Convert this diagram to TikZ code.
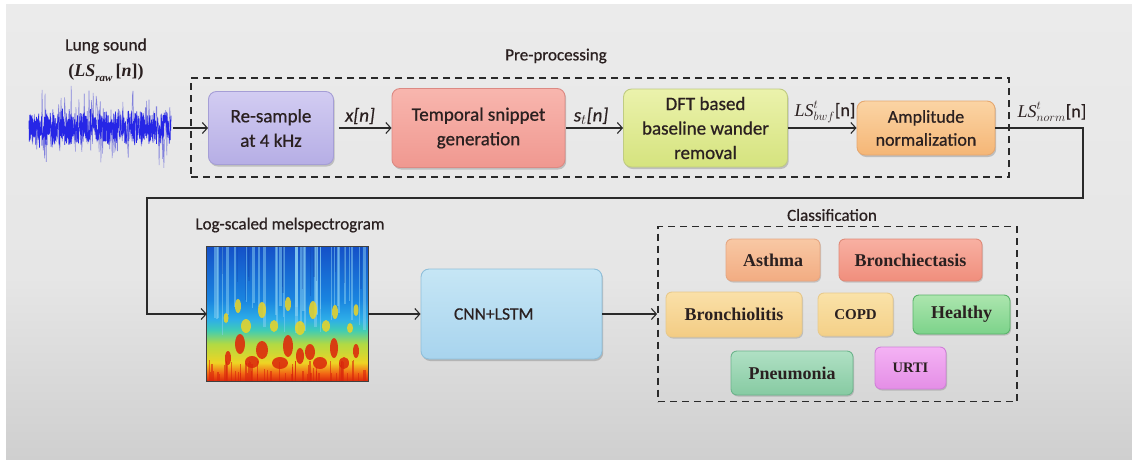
\documentclass[tikz,border=0pt]{standalone}
\usepackage{fontspec}
\setmainfont{Carlito}[RawFeature={embolden=0.7}]
\newfontfamily\serifbold{Liberation Serif}
\usetikzlibrary{arrows.meta,shadows}

% palette
\definecolor{ink}{HTML}{2A2A2A}
\definecolor{txt}{HTML}{2A2020}
\definecolor{bgT}{HTML}{EBEBEB}
\definecolor{bgM}{HTML}{E6E6E6}
\definecolor{bgB}{HTML}{CFCFCF}
\definecolor{rsT}{HTML}{D2CCF2}\definecolor{rsB}{HTML}{B6AEE5}\definecolor{rsD}{HTML}{A59ED6}
\definecolor{tsT}{HTML}{F8B6AE}\definecolor{tsB}{HTML}{F09890}\definecolor{tsD}{HTML}{DC8A84}
\definecolor{dfT}{HTML}{EBF2AC}\definecolor{dfB}{HTML}{D5E37E}\definecolor{dfD}{HTML}{C0CC82}
\definecolor{amT}{HTML}{FBD4A4}\definecolor{amB}{HTML}{F5B676}\definecolor{amD}{HTML}{E6A870}
\definecolor{cnT}{HTML}{C6E6F5}\definecolor{cnB}{HTML}{A8D4EE}\definecolor{cnD}{HTML}{8FBFDA}
\definecolor{asT}{HTML}{F8C8A4}\definecolor{asB}{HTML}{F2AC82}\definecolor{asD}{HTML}{E5A783}
\definecolor{bcT}{HTML}{F8B0A2}\definecolor{bcB}{HTML}{F08E7C}\definecolor{bcD}{HTML}{E08A78}
\definecolor{blT}{HTML}{FAE0A8}\definecolor{blB}{HTML}{F3CC84}\definecolor{blD}{HTML}{E8C98A}
\definecolor{cpT}{HTML}{FAE2A8}\definecolor{cpB}{HTML}{F4D088}\definecolor{cpD}{HTML}{E8CA8C}
\definecolor{hyT}{HTML}{ACE6AE}\definecolor{hyB}{HTML}{7CD28A}\definecolor{hyD}{HTML}{5AB36A}
\definecolor{pnT}{HTML}{B0E0C4}\definecolor{pnB}{HTML}{86CAA2}\definecolor{pnD}{HTML}{6CB48C}
\definecolor{urT}{HTML}{F4B2F4}\definecolor{urB}{HTML}{E48EE6}\definecolor{urD}{HTML}{D080D8}
\definecolor{waveCore}{HTML}{2626E6}
\definecolor{waveSpike}{HTML}{7070DA}
\definecolor{spR}{HTML}{D8240C}
\definecolor{spO}{HTML}{F26414}
\definecolor{spY}{HTML}{EED424}
\definecolor{spG}{HTML}{B0DA44}
\definecolor{spC}{HTML}{40CCB4}
\definecolor{spL}{HTML}{2EAEE8}
\definecolor{spM}{HTML}{1A86E0}
\definecolor{spB}{HTML}{1450C8}

% TikZ fits a shaded path to the 25bp--75bp band of the shading
\pgfdeclareverticalshading{bgshade}{100bp}{color(0bp)=(bgB); color(25bp)=(bgB); color(45bp)=(bgM); color(75bp)=(bgT); color(100bp)=(bgT)}
\pgfdeclareverticalshading{specshade}{100bp}{color(0bp)=(spR); color(25bp)=(spR); color(28bp)=(spO); color(32bp)=(spY); color(39bp)=(spG); color(44bp)=(spC); color(48bp)=(spL); color(55bp)=(spM); color(75bp)=(spB); color(100bp)=(spB)}

\begin{document}
\begin{tikzpicture}[x=1pt,y=-1pt,
  conn/.style={draw=ink, line width=1.1pt},
  arr/.style={conn, -{Straight Barb[length=5pt,width=11pt]}},
  dashbox/.style={draw=ink, line width=1.8pt, dash pattern=on 7pt off 5pt, inner sep=0pt},
  stagebox/.style={rounded corners=8pt, line width=0.9pt, align=center, text=txt, inner sep=0pt,
    font=\fontsize{19}{24.5}\selectfont,
    drop shadow={shadow xshift=1.2pt, shadow yshift=-2pt, fill=black, opacity=0.18}},
  classbox/.style={rounded corners=6pt, line width=0.9pt, text=txt, inner sep=0pt,
    font=\serifbold\bfseries\fontsize{18}{20}\selectfont,
    drop shadow={shadow xshift=1pt, shadow yshift=-1.5pt, fill=black, opacity=0.15}},
  titletext/.style={text=txt, inner sep=0pt, font=\fontsize{17}{20}\selectfont},
  siglabel/.style={text=txt, inner sep=0pt, font=\fontsize{19}{20}\selectfont}
]
\useasboundingbox (0,0) rectangle (1132,459);

% backdrop
\fill[white] (0,0) rectangle (1132,459);
\shade[shading=bgshade] (6,4) rectangle (1132,459);

% ---------- input signal ----------
\node[titletext, font=\fontsize{17.5}{20}\selectfont] (lungtitle) at (106,46) {Lung sound};
\node[titletext, font=\serifbold\bfseries\fontsize{18}{20}\selectfont] (lungsym) at (106,73)
  {(\textit{LS}\raisebox{-0.28em}{\fontsize{11}{12}\selectfont\textit{raw}}\,[\textit{n}])};
\node[minimum width=145pt, minimum height=94pt, inner sep=0pt] (wave) at (100.5,128) {};
\pgfmathsetseed{11}
\draw[waveSpike, line width=0.55pt, opacity=0.85] plot[domain=29:171, samples=240] (\x,{128+47*rand*rand});
\draw[waveCore, line width=0.7pt] plot[domain=29:171, samples=560] (\x,{128+(13+7*rnd)*rand});

% ---------- pre-processing chain ----------
\node[dashbox, minimum width=818pt, minimum height=99pt] (pre) at (600,127.5) {};
\node[titletext] (pretitle) at (556,56) {Pre-processing};

\node[stagebox, minimum width=125pt, minimum height=73pt, top color=rsT, bottom color=rsB, draw=rsD]
  (rs) at (271,128) {Re-sample\\at 4 kHz};
\node[stagebox, minimum width=173pt, minimum height=79pt, top color=tsT, bottom color=tsB, draw=tsD]
  (ts) at (478.5,128) {Temporal snippet\\generation};
\node[stagebox, minimum width=164pt, minimum height=78pt, top color=dfT, bottom color=dfB, draw=dfD]
  (dft) at (705.5,128) {DFT based\\baseline wander\\removal};
\node[stagebox, minimum width=138pt, minimum height=54pt, top color=amT, bottom color=amB, draw=amD,
  font=\fontsize{18}{23}\selectfont]
  (amp) at (926,128) {Amplitude\\normalization};

\draw[arr] (wave.east) -- (rs.west);
\draw[arr, shorten <=5pt] (rs.east) -- (ts.west);
\draw[arr, shorten <=1pt] (ts.east) -- (dft.west);
\draw[arr] (dft.east) -- (amp.west);

\node[siglabel] (lx) at (360,116) {\itshape x[n]};
\node[siglabel] (ls) at (591,116) {\itshape s$_t$[n]};
\node[siglabel, font=\fontsize{18}{20}\selectfont] (lbwf) at (825,112)
  {$\hbox{\serifbold\itshape LS}^{t}_{bwf}$[n]};
\node[siglabel, font=\fontsize{18}{20}\selectfont] (lnorm) at (1052,112)
  {$\hbox{\serifbold\itshape LS}^{t}_{norm}$[n]};

% loop back to the second row
\coordinate (ret1) at (1083,198);
\coordinate (ret2) at (147,198);

% ---------- spectrogram ----------
\node[titletext] (spectitle) at (290,225) {Log-scaled melspectrogram};
\node[minimum width=161pt, minimum height=135pt, inner sep=0pt, shading=specshade] (spec) at (287.5,314) {};
\begin{scope}
  \clip (spec.north west) rectangle (spec.south east);
  \pgfmathsetseed{5}
  \foreach \k in {1,...,36} {
    \pgfmathsetmacro\sx{209+157*rnd}
    \pgfmathsetmacro\sl{300+35*rnd}
    \pgfmathsetmacro\sw{0.8+2.2*rnd}
    \draw[spL!55!white, line width=\sw pt, opacity=0.5] (\sx,247) -- (\sx,\sl);
  }
  \foreach \k in {1,...,14} {
    \pgfmathsetmacro\sx{209+157*rnd}
    \pgfmathsetmacro\sl{270+30*rnd}
    \draw[spB!85!black, line width=1.2pt, opacity=0.3] (\sx,247) -- (\sx,\sl);
  }
  \foreach \cx/\cy/\rx/\ry in {238/306/3/7, 262/310/4/8, 288/304/3/7, 313/310/4/9, 335/312/3/7,
      356/310/2.5/6, 246/326/5/7, 274/326/4/6, 300/328/5/7, 326/326/4/6, 350/328/3/5, 226/318/2.5/5}
    \fill[spY, opacity=0.85] (\cx,\cy) ellipse[x radius=\rx, y radius=\ry];
  \foreach \cx/\cy/\rx/\ry in {240/344/5/10, 262/350/6/9, 288/346/5/11, 310/352/5/8, 334/348/4/10,
      356/351/3/7, 252/362/7/6, 280/363/8/6, 320/363/7/6, 228/358/3/7, 344/363/5/6, 300/356/4/8}
    \fill[spR!85!spO, opacity=0.9] (\cx,\cy) ellipse[x radius=\rx, y radius=\ry];
  \pgfmathsetseed{17}
  \foreach \k in {1,...,60} {
    \pgfmathsetmacro\sx{208+159*rnd}
    \pgfmathsetmacro\sl{360+14*rnd}
    \draw[spR, line width=1.2pt, opacity=0.6] (\sx,382) -- (\sx,\sl);
  }
\end{scope}
\draw[black!75, line width=1.2pt] (spec.north west) rectangle (spec.south east);

\draw[arr] (amp.east) -| (ret1) -- (ret2) |- (spec.west);

% ---------- network ----------
\node[stagebox, minimum width=181pt, minimum height=90pt, top color=cnT, bottom color=cnB, draw=cnD,
  text width=115pt, align=left, font=\fontsize{17.5}{20}\selectfont]
  (cnn) at (511.5,314) {CNN+LSTM};
\draw[arr] (spec.east) -- (cnn.west);

% ---------- classes ----------
\node[dashbox, minimum width=359pt, minimum height=175pt] (cls) at (837.5,314) {};
\node[titletext] (clstitle) at (832,215) {Classification};
\draw[arr] (cnn.east) -- (cls.west);

\node[classbox, minimum width=94pt, minimum height=42pt, top color=asT, bottom color=asB, draw=asD]
  (asthma) at (773,260) {Asthma};
\node[classbox, minimum width=143pt, minimum height=42pt, top color=bcT, bottom color=bcB, draw=bcD]
  (bronchiect) at (910.5,260) {Bronchiectasis};
\node[classbox, minimum width=136pt, minimum height=45pt, top color=blT, bottom color=blB, draw=blD]
  (bronchiol) at (734,314.5) {Bronchiolitis};
\node[classbox, minimum width=75pt, minimum height=43pt, top color=cpT, bottom color=cpB, draw=cpD,
  font=\serifbold\bfseries\fontsize{15}{18}\selectfont]
  (copd) at (855.5,314.5) {COPD};
\node[classbox, minimum width=97pt, minimum height=39pt, top color=hyT, bottom color=hyB, draw=hyD]
  (healthy) at (961.5,314.5) {Healthy};
\node[classbox, minimum width=122pt, minimum height=44pt, top color=pnT, bottom color=pnB, draw=pnD]
  (pneumonia) at (792,373) {Pneumonia};
\node[classbox, minimum width=71pt, minimum height=42pt, top color=urT, bottom color=urB, draw=urD,
  font=\serifbold\bfseries\fontsize{14.5}{18}\selectfont]
  (urti) at (910.5,368) {URTI};
\end{tikzpicture}
\end{document}
